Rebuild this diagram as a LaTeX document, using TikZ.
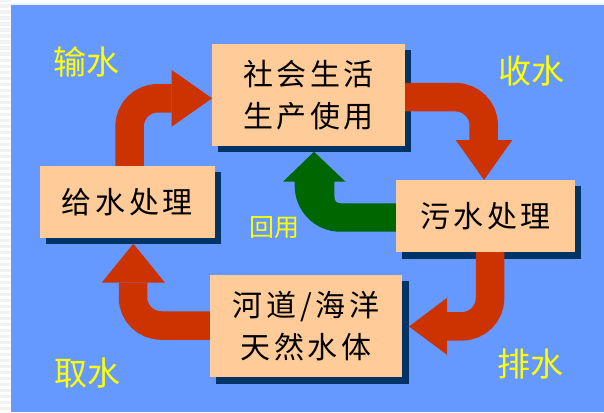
\documentclass[tikz,border=0pt]{standalone}
\usepackage{fontspec}
\newfontfamily\cjk{Noto Sans CJK SC}
\newfontfamily\boxcjk[LetterSpace=12]{Noto Sans CJK SC}
\definecolor{bgblue}{HTML}{6699FF}
\definecolor{boxfill}{HTML}{FFCC99}
\definecolor{shadowc}{HTML}{003366}
\definecolor{arrred}{HTML}{CC3300}
\definecolor{arrgreen}{HTML}{006600}
\definecolor{labyellow}{HTML}{FFFF00}
\definecolor{edgegray}{HTML}{F2F2F2}
\tikzset{
  stagebox/.style={fill=boxfill, draw=none, inner sep=0pt, align=center,
    font=\boxcjk\fontsize{30}{42}\selectfont, text=black},
  shadowbox/.style={fill=shadowc, draw=none},
  label/.style={font=\cjk\fontsize{33}{33}\selectfont, text=labyellow, inner sep=0pt},
  smalllabel/.style={font=\cjk\fontsize{25}{25}\selectfont, text=labyellow, inner sep=0pt},
  redshaft/.style={draw=arrred, line width=28.5pt, rounded corners=28pt},
  redhead/.style={fill=arrred, draw=none},
  greenarrow/.style={fill=arrgreen, draw=none},
}
\begin{document}
\begin{tikzpicture}[x=1pt,y=-1pt]
\useasboundingbox (0,0) rectangle (604,412);
% page background
\fill[edgegray] (0,0) rectangle (604,412);
\foreach \yy in {2,8,14,...,410} {\fill[white] (0,\yy) rectangle (11,\yy+2.5);}
\fill[white] (11,0) rectangle (604,3);
\fill[bgblue] (11,5) rectangle (604,412);

% box positions (coordinates only; boxes drawn after arrows)
\coordinate (topc) at (308.5,95);
\coordinate (givec) at (127.3,202);
\coordinate (wastec) at (485.5,216);
\coordinate (riverc) at (306,326);

% shadows
\fill[shadowc] (218,50) rectangle (411,151.7);
\fill[shadowc] (46,172) rectangle (220.7,243.7);
\fill[shadowc] (402,186) rectangle (581,258.5);
\fill[shadowc] (216,281) rectangle (409,384);

% named anchor points for the arrows
\coordinate (a1s) at (129.6,170);
\coordinate (a1b) at (171.7,98.3);
\coordinate (a2s) at (400,97.2);
\coordinate (a2b) at (483.7,140);
\coordinate (a3s) at (490,250);
\coordinate (a3b) at (447,326.3);
\coordinate (a4s) at (215,325.5);
\coordinate (a4b) at (133,282.7);

% arrows (drawn under the boxes)
\draw[redshaft] (a1s) |- (a1b);
\fill[redhead] (171.7,70) -- (212,98.3) -- (171.7,126.7) -- cycle;
\draw[redshaft] (a2s) -| (a2b);
\fill[redhead] (455.7,140) -- (484,180) -- (512.3,140) -- cycle;
\draw[redshaft] (a3s) |- (a3b);
\fill[redhead] (447,297.8) -- (409,326.5) -- (447,354.8) -- cycle;
\draw[redshaft] (a4s) -| (a4b);
\fill[redhead] (101.7,282.7) -- (133.3,243.7) -- (165,282.7) -- cycle;
\fill[greenarrow] (400,231.7) -- (340,231.7)
  .. controls (315,231.7) and (294.7,211) .. (294.7,186)
  -- (294.7,181.7) -- (283,181.7) -- (314,151.7) -- (345.5,181.7) -- (334.4,181.7)
  -- (334.4,196) .. controls (334.4,201) and (336,203.3) .. (341,203.3)
  -- (400,203.3) -- cycle;

% boxes
\node[stagebox, minimum width=193pt, minimum height=102pt] (top) at (topc) {社会生活\\生产使用};
\node[stagebox, minimum width=174.6pt, minimum height=71.7pt] (give) at (givec) {给水处理};
\node[stagebox, minimum width=179pt, minimum height=71.7pt] (waste) at (wastec) {污水处理};
\node[stagebox, minimum width=192pt, minimum height=101.7pt] (river) at (riverc) {河道/海洋\\天然水体};

% labels
\node[label] (lshu) at (86.3,62) {输水};
\node[label] (lshou) at (531.6,70.8) {收水};
\node[smalllabel] (lhui) at (274.5,227.5) {回用};
\node[label] (lqu) at (87.6,373) {取水};
\node[label] (lpai) at (530.6,364) {排水};
\end{tikzpicture}
\end{document}
